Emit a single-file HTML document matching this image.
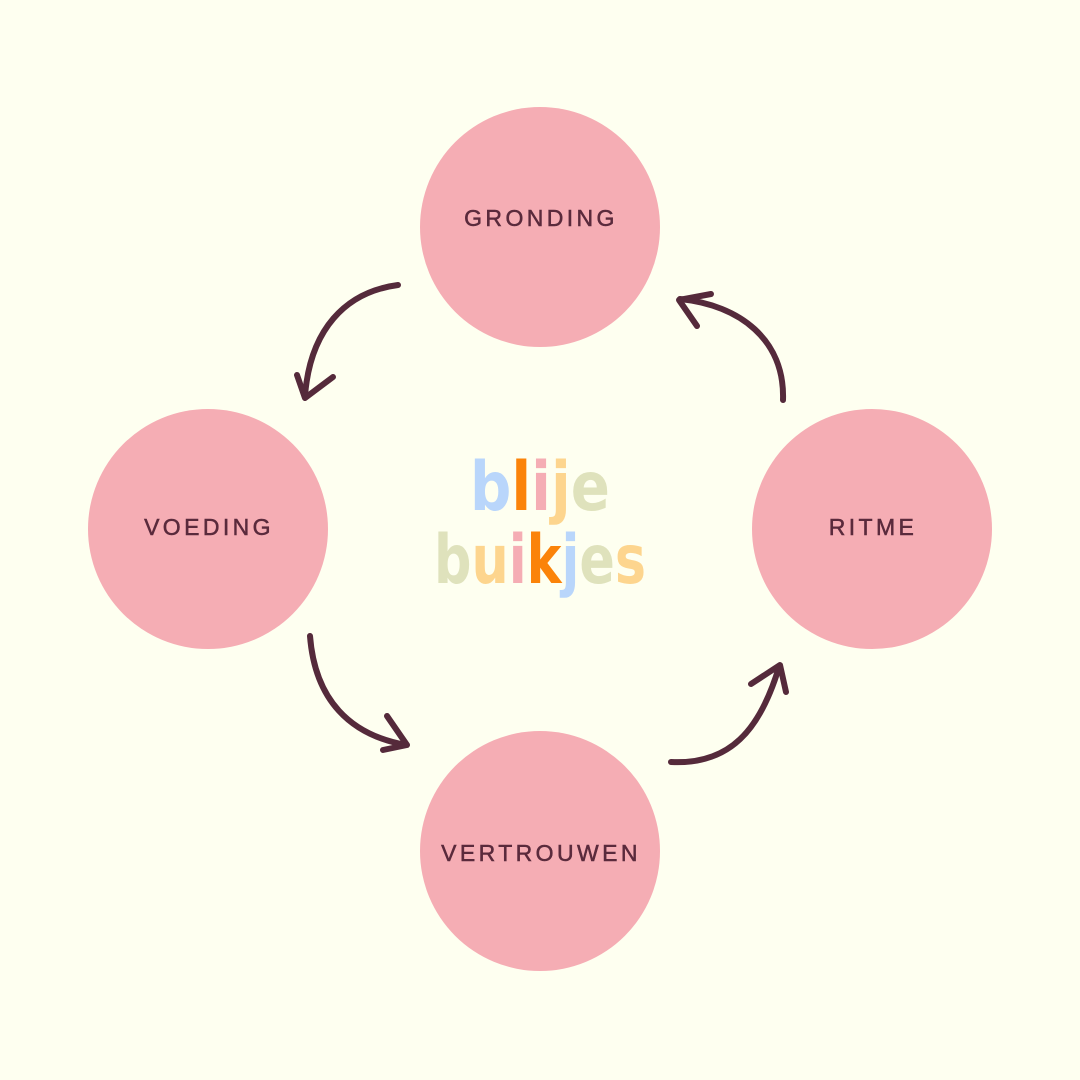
<!DOCTYPE html>
<html><head><meta charset="utf-8"><style>
html,body{margin:0;padding:0;background:#fefff0;}
svg{display:block}
</style></head><body>
<svg width="1080" height="1080" viewBox="0 0 1080 1080" xmlns="http://www.w3.org/2000/svg">
<rect width="1080" height="1080" fill="#fefff0"/>
<g fill="#f5adb4">
<circle cx="540" cy="227" r="120"/>
<circle cx="208" cy="529" r="120"/>
<circle cx="872" cy="529" r="120"/>
<circle cx="540" cy="851" r="120"/>
</g>
<g font-family="Liberation Sans, sans-serif" font-size="23" fill="#5a2a3c" stroke="#5a2a3c" stroke-width="0.5" text-anchor="middle" letter-spacing="3.4">
<text x="541" y="226">GRONDING</text>
<text x="209" y="535">VOEDING</text>
<text x="873" y="535">RITME</text>
<text x="541" y="861">VERTROUWEN</text>
</g>
<g fill="none" stroke="#552a3b" stroke-width="6" stroke-linecap="round" stroke-linejoin="round">
<path d="M398 285 C345 292 310 330 305 396"/>
<path d="M297 375 L305 398 L333 377"/>
<path d="M310 636 C315 700 350 735 406 745"/>
<path d="M387 716 L407 745 L383 750"/>
<path d="M671 762 C730 765 760 730 779 667"/>
<path d="M751 684 L780 665 L786 692"/>
<path d="M783 400 C785 340 740 305 680 299"/>
<path d="M697 326 L679 300 L711 294"/>
</g>
<g font-family="DejaVu Sans, sans-serif" font-weight="bold" font-size="68">
<text x="470" y="510" textLength="140" lengthAdjust="spacingAndGlyphs"><tspan fill="#b9d6fb">b</tspan><tspan fill="#fb8309">l</tspan><tspan fill="#f5adb4">i</tspan><tspan fill="#fdd58e">j</tspan><tspan fill="#dfe2bc">e</tspan></text>
<text x="434" y="583" textLength="212" lengthAdjust="spacingAndGlyphs"><tspan fill="#dfe2bc">b</tspan><tspan fill="#fdd58e">u</tspan><tspan fill="#f5adb4">i</tspan><tspan fill="#fb8309">k</tspan><tspan fill="#b9d6fb">j</tspan><tspan fill="#dfe2bc">e</tspan><tspan fill="#fdd58e">s</tspan></text>
</g>
</svg>
</body></html>
